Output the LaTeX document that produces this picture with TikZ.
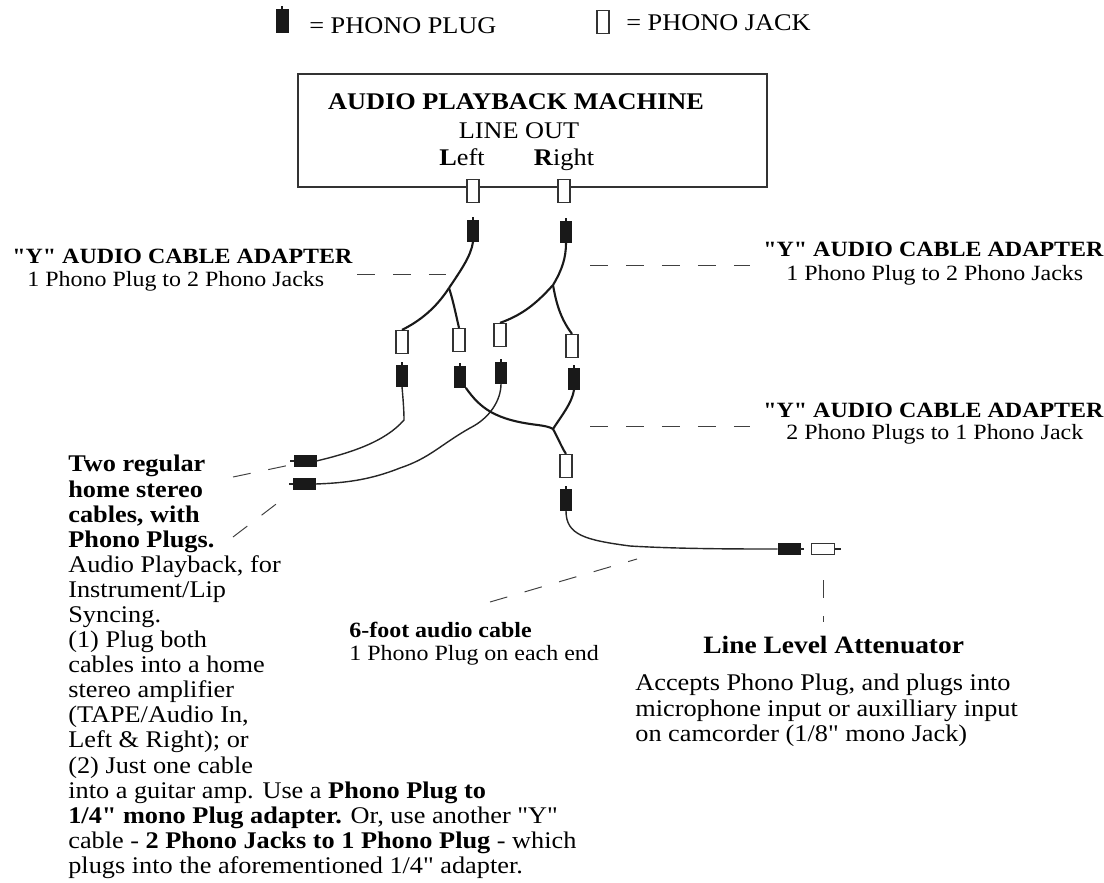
\documentclass[tikz,border=0pt]{standalone}
\usepackage{fontspec}
\setmainfont[FakeStretch=1.1,Ligatures=TeXOff]{Liberation Serif}
\begin{document}
\begin{tikzpicture}[x=0.02cm, y=-0.02cm, font=\fontsize{13.6}{14.28}\selectfont,
  plugv/.style={fill=black!90, draw=black!90, inner sep=0, minimum width=0.22cm, minimum height=0.42cm, append after command={(\tikzlastnode.north) edge[line width=0.9pt, black!90] +(0,-3)}},
  plugh/.style={fill=black!90, draw=black!90, inner sep=0, minimum width=0.44cm, minimum height=0.22cm},
  jackv/.style={fill=white, draw=black!80, line width=0.7pt, inner sep=0, minimum width=0.24cm, minimum height=0.46cm},
  cable/.style={line width=1.2pt, black!90},
  thincable/.style={line width=0.8pt, black!85},
  leader/.style={dash pattern=on 0.36cm off 0.36cm, line width=0.55pt, black!75},
  lab/.style={anchor=west, inner sep=0},
  small/.style={font=\fontsize{12.4}{14}\selectfont},
  smallb/.style={font=\fontsize{12.4}{14}\selectfont\bfseries},
  para/.style={anchor=north west, align=left, inner sep=0}]
  \useasboundingbox (0,0) rectangle (1104,882);

  \node[plugv, minimum width=0.24cm, minimum height=0.46cm] (keyplug) at (282,21) {};
  \node[lab] (keyplugtxt) at (309,26) {= PHONO PLUG};
  \node[jackv, minimum height=0.46cm] (keyjack) at (603,22) {};
  \node[lab] (keyjacktxt) at (626,23) {= PHONO JACK};

  \node[draw=black!80, line width=0.8pt, minimum width=9.38cm, minimum height=2.26cm, inner sep=0] (machine) at (532.5,130.5) {};
  \node[font=\fontsize{13.6}{14.28}\selectfont\bfseries] (machinetxt) at (516,102) {AUDIO PLAYBACK MACHINE};
  \node (lineout) at (519,131) {LINE OUT};
  \node[anchor=base] (lefttxt) at (462,165) {\textbf{L}eft};
  \node[anchor=base] (righttxt) at (564,165) {\textbf{R}ight};

  \node[jackv] (jl) at (473,191) {}; \node[jackv] (jr) at (564,191) {};
  \node[plugv] (pl) at (473,231) {}; \node[plugv] (pr) at (566,232) {};
  \node[jackv] (ja) at (402,342) {}; \node[jackv] (jb) at (459,340) {};
  \node[jackv] (jc) at (500,335) {}; \node[jackv] (jd) at (572,346) {};
  \node[plugv] (pa) at (402,376) {}; \node[plugv] (pb) at (460,377) {};
  \node[plugv] (pc) at (501,373) {}; \node[plugv] (pd) at (574,379) {};
  \node[jackv] (je) at (566,466) {}; \node[plugv] (pe) at (566,500) {};
  \node[plugh] (ph1) at (305,461) {}; \node[plugh] (ph2) at (304,484) {};
  \node[plugh] (pf) at (789,549) {};
  \node[fill=white, draw=black!80, line width=0.7pt, inner sep=0, minimum width=0.46cm, minimum height=0.22cm] (atten) at (823,549) {};
  \coordinate (ph1tip) at (290,461); \coordinate (ph2tip) at (289,484);
  \coordinate (pftip) at (804,549); \coordinate (attentip) at (841,549);
  \draw[thincable] (ph1.west) -- (ph1tip); \draw[thincable] (ph2.west) -- (ph2tip);
  \draw[thincable] (pf.east) -- (pftip); \draw[thincable] (atten.east) -- (attentip);

  \coordinate (yl) at (449,288); \coordinate (yr) at (553,285); \coordinate (ym) at (553,429);

  \draw[cable] (pl.south) .. controls (471,256) and (461,270) .. (yl);
  \draw[cable] (yl) .. controls (436,308) and (420,321) .. (ja.north);
  \draw[cable] (yl) .. controls (453,300) and (456,315) .. (jb.north);
  \draw[cable] (pr.south) .. controls (566,258) and (562,270) .. (yr);
  \draw[cable] (yr) .. controls (536,304) and (522,315) .. (jc.north);
  \draw[cable] (yr) .. controls (556,302) and (560,318) .. (jd.north);

  \draw[thincable] (pa.south) .. controls (403,398) and (404,410) .. (404,420) .. controls (385,442) and (350,453) .. (ph1.east);
  \draw[thincable] (pc.south) .. controls (501,400) and (490,418) .. (470,428) .. controls (440,445) and (430,458) .. (400,468) .. controls (370,480) and (345,483) .. (ph2.east);
  \draw[cable] (pb.south east) .. controls (480,408) and (495,420) .. (538,425) .. controls (545,426) and (550,427) .. (ym);
  \draw[cable] (pd.south) .. controls (572,403) and (562,415) .. (ym);
  \draw[cable] (ym) .. controls (558,438) and (562,448) .. (je.north);
  \draw[thincable] (pe.south) .. controls (566,535) and (585,540) .. (630,546) .. controls (680,549) and (740,549) .. (pf.west);

  \coordinate (d1a) at (357,274); \coordinate (d1b) at (446,274);
  \coordinate (d2a) at (590,265); \coordinate (d2b) at (750,265);
  \coordinate (d3a) at (590,426); \coordinate (d3b) at (750,426);
  \coordinate (d4a) at (233,477); \coordinate (d4b) at (290,465);
  \coordinate (d5a) at (233,537); \coordinate (d5b) at (288,495);
  \coordinate (d6a) at (490,602); \coordinate (d6b) at (637,559);
  \coordinate (d7a) at (823,580); \coordinate (d7b) at (823,622);
  \draw[leader] (d1a) -- (d1b); \draw[leader] (d2a) -- (d2b); \draw[leader] (d3a) -- (d3b);
  \draw[leader] (d4a) -- (d4b); \draw[leader] (d5a) -- (d5b); \draw[leader] (d6a) -- (d6b);
  \draw[leader] (d7a) -- (d7b);

  \node[lab, smallb] (ytxt1) at (12,256) {"Y" AUDIO CABLE ADAPTER};
  \node[lab, small] (ysub1) at (27,281) {1 Phono Plug to 2 Phono Jacks};
  \node[lab, smallb] (ytxt2) at (763,249) {"Y" AUDIO CABLE ADAPTER};
  \node[lab, small] (ysub2) at (786,275) {1 Phono Plug to 2 Phono Jacks};
  \node[lab, smallb] (ytxt3) at (763,410) {"Y" AUDIO CABLE ADAPTER};
  \node[lab, small] (ysub3) at (786,434) {2 Phono Plugs to 1 Phono Jack};
  \node[lab, smallb] (cabletxt) at (349,630) {6-foot audio cable};
  \node[lab, small] (cablesub) at (349,655) {1 Phono Plug on each end};
  \node[lab, font=\fontsize{14.2}{15}\selectfont\bfseries] (attentxt) at (703,645) {Line Level Attenuator};
  \node[para] (accepts) at (635,674) {Accepts Phono Plug, and plugs into\\ microphone input or auxilliary input\\ on camcorder (1/8" mono Jack)};
  \node[para] (notes) at (68,455) {\textbf{Two regular}\\ \textbf{home stereo}\\ \textbf{cables, with}\\ \textbf{Phono Plugs.}\\ Audio Playback, for\\ Instrument/Lip\\ Syncing.\\ (1) Plug both\\ cables into a home\\ stereo amplifier\\ (TAPE/Audio In,\\ Left \& Right); or\\ (2) Just one cable\\ into a guitar amp. Use a \textbf{Phono Plug to}\\ \textbf{1/4" mono Plug adapter.} Or, use another "Y"\\ cable - \textbf{2 Phono Jacks to 1 Phono Plug} - which\\ plugs into the aforementioned 1/4" adapter.};
\end{tikzpicture}
\end{document}
